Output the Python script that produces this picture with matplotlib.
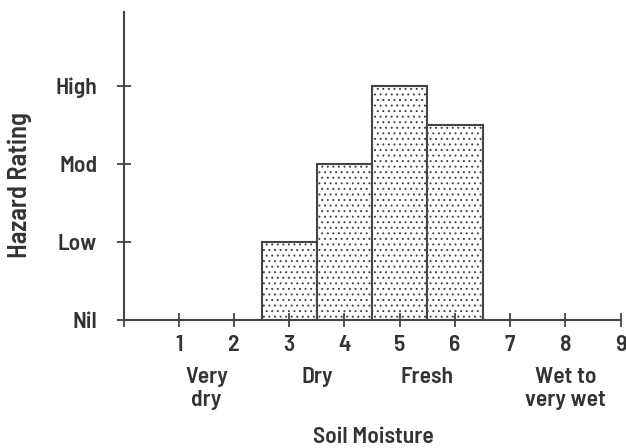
import matplotlib.pyplot as plt

# data
moisture = [3, 4, 5, 6]
hazard = [1, 2, 3, 2.5]
rating_labels = ['Nil', 'Low', 'Mod', 'High']
x_ticks = list(range(0, 10))
classes = ['Very\ndry', 'Dry', 'Fresh', 'Wet to\nvery wet']
class_pos = [1.5, 3.5, 5.5, 8]

plt.rcParams['font.family'] = ['Barlow Semi Condensed', 'Liberation Sans', 'DejaVu Sans']
plt.rcParams['font.weight'] = 600
plt.rcParams['hatch.color'] = '#808080'
plt.rcParams['hatch.linewidth'] = 0.7

ink = '#333333'
fig = plt.figure(figsize=(6.26, 4.48), dpi=100)
ax = fig.add_axes([0.1974, 0.2857, 0.794, 0.6875])

ax.bar(moisture, hazard, width=1.0, facecolor='white', edgecolor='#444444',
       linewidth=1.5, hatch='...')

ax.set_xlim(0, 9)
ax.set_ylim(0, 3.95)
for s in ['top', 'right']:
    ax.spines[s].set_visible(False)
for s in ['left', 'bottom']:
    ax.spines[s].set_color('#444444')
    ax.spines[s].set_linewidth(1.5)

ax.set_xticks(x_ticks)
ax.set_xticklabels([''] + [str(i) for i in x_ticks[1:]], fontsize=17)
ax.set_yticks(range(len(rating_labels)))
ax.set_yticklabels(rating_labels, fontsize=17)
ax.tick_params(direction='inout', length=10, width=1.3, color='#444444',
               labelcolor=ink)
ax.tick_params(axis='x', pad=6)
ax.tick_params(axis='y', pad=14)

for p, c in zip(class_pos, classes):
    ax.text(p, -0.6, c, ha='center', va='top', fontsize=17, color=ink,
            linespacing=1.2)

fig.text(0.596, 0.024, 'Soil Moisture', ha='center', va='center',
         fontsize=17, color=ink)
fig.text(0.032, 0.587, 'Hazard Rating', rotation=90, ha='center', va='center',
         fontsize=19, color=ink)

fig.savefig('out.png', dpi=100)
